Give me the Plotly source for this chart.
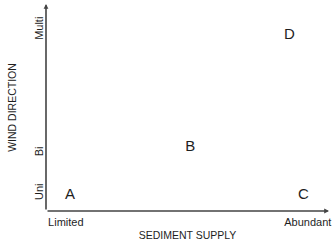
import plotly.graph_objects as go

# Regime labels positioned in (sediment supply, wind direction) space, 0-10 scales
letters = ["A", "B", "C", "D"]
supply = [0.85, 5.1, 9.1, 8.6]
wind = [0.75, 3.1, 0.75, 8.5]

x_tick_vals = [0.7, 9.25]
x_tick_text = ["Limited", "Abundant"]
y_tick_vals = [0.85, 2.8, 8.75]
y_tick_text = ["Uni", "Bi", "Multi"]

FONT = "Liberation Sans, Arial, sans-serif"
TXT = "#1e1e1e"

fig = go.Figure()
fig.add_trace(go.Scatter(
    x=supply, y=wind, mode="text", text=letters,
    textfont=dict(family=FONT, size=15, color=TXT),
    cliponaxis=False, hoverinfo="skip", showlegend=False,
))

# axis arrows
fig.add_annotation(x=10, y=0, ax=0, ay=0, xref="x", yref="y", axref="x", ayref="y",
                   showarrow=True, arrowhead=2, arrowsize=0.6, arrowwidth=1.6,
                   arrowcolor="#444", text="")
fig.add_annotation(x=0, y=10, ax=0, ay=0, xref="x", yref="y", axref="x", ayref="y",
                   showarrow=True, arrowhead=2, arrowsize=0.6, arrowwidth=1.6,
                   arrowcolor="#444", text="")

fig.update_xaxes(
    range=[0, 10], showgrid=False, zeroline=False, showline=False, automargin=False,
    tickmode="array", tickvals=x_tick_vals, ticktext=x_tick_text,
    ticklabeloverflow="allow", ticklabelstandoff=3,
    tickfont=dict(family=FONT, size=11, color=TXT), ticks="",
    title=dict(text="SEDIMENT SUPPLY", font=dict(family=FONT, size=10.5, color=TXT), standoff=4),
)
fig.update_yaxes(
    range=[0, 10], showgrid=False, zeroline=False, showline=False, automargin=False,
    tickmode="array", tickvals=y_tick_vals, ticktext=y_tick_text, tickangle=-90,
    tickfont=dict(family=FONT, size=11, color=TXT), ticks="",
    title=dict(text="WIND DIRECTION", font=dict(family=FONT, size=10.5, color=TXT), standoff=14),
)
fig.update_layout(
    width=334, height=246,
    margin=dict(l=46, r=5, t=4, b=35, autoexpand=False),
    paper_bgcolor="white", plot_bgcolor="white",
)
fig.write_html("out.html", config={"displayModeBar": False},
               post_script="document.body.style.margin='0';")
